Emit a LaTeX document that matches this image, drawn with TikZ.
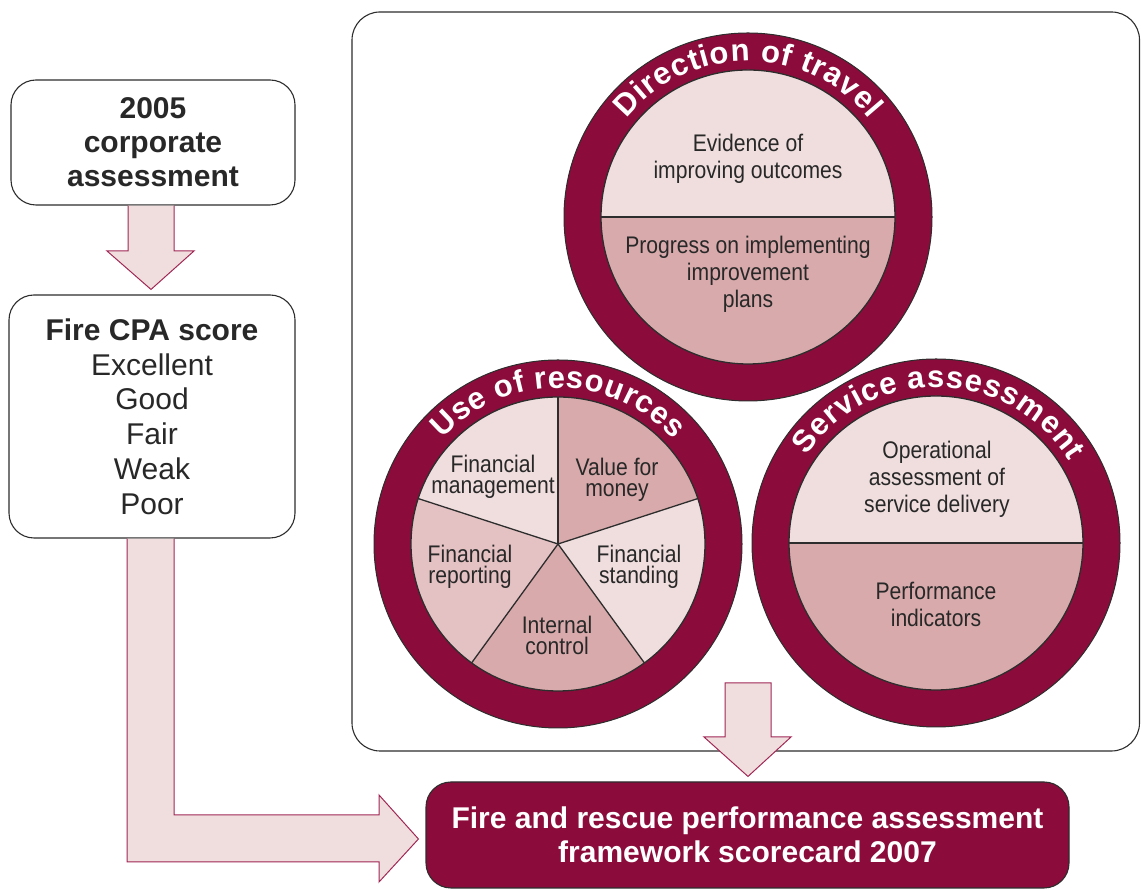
\documentclass[tikz,border=0pt]{standalone}
\usepackage{fontspec}
\setmainfont{Liberation Sans}
\newfontfamily\condf[FakeStretch=0.88]{Liberation Sans}
\usetikzlibrary{decorations.text,calc}
\definecolor{maroon}{RGB}{139,12,58}
\definecolor{pinkA}{RGB}{240,222,222}
\definecolor{pinkB}{RGB}{216,170,171}
\definecolor{pinkC}{RGB}{228,193,194}
\definecolor{txt}{RGB}{40,40,40}
\definecolor{edge}{RGB}{45,45,45}
\definecolor{arrowedge}{RGB}{160,40,85}
\newcommand\ringf{\bfseries\fontsize{31}{31}\selectfont}
\begin{document}
\begin{tikzpicture}[x=1pt,y=1pt,
  box/.style={draw=edge, line width=1.1pt, rounded corners=25pt, fill=white, inner sep=0pt, align=center, text=txt},
  blockarrow/.style={fill=pinkA, draw=arrowedge, line width=1pt, line join=miter},
  cell/.style={font=\condf\fontsize{24}{27}\selectfont, text=txt, align=center, inner sep=0pt},
  tightcell/.style={cell, font=\condf\fontsize{24}{21}\selectfont},
  ring/.style={circle, fill=maroon, draw=edge, line width=1pt, minimum size=368pt, inner sep=0pt},
  divider/.style={draw=edge, line width=1.3pt},
  ringtext/.style={decorate, decoration={text effects along path, text={#1}, text align=center,
     text effects/.cd, text along path, fit text to path, characters={text=white, font=\ringf}}}
]
\useasboundingbox (0,0) rectangle (1141,890);

% frame
\node[draw=edge, line width=1.1pt, rounded corners=28pt, minimum width=787.5pt, minimum height=739pt, inner sep=0pt] (frame) at (745.75,508.5) {};

% Direction of travel
\node[ring] (dot) at (748,673) {};
\fill[pinkA] ($(dot.center)+(147,0)$) arc[start angle=0, end angle=180, radius=147] -- cycle;
\fill[pinkB] ($(dot.center)+(-147,0)$) arc[start angle=180, end angle=360, radius=147] -- cycle;
\draw[divider] ($(dot.center)+(-147,0)$) -- ($(dot.center)+(147,0)$);
\draw[divider] (dot.center) circle[radius=147];
\path[ringtext={Direction of travel}] ($(dot.center)+(141:156)$) arc[start angle=141, end angle=39, radius=156];
\node[cell] (evid) at (748,731) {Evidence of\\improving outcomes};
\node[cell] (prog) at (748,616) {Progress on implementing\\improvement\\plans};

% Use of resources
\node[ring] (uor) at (558,346) {};
\foreach \a/\b/\c in {90/162/pinkA, 18/90/pinkB, -54/18/pinkA, -126/-54/pinkB, 162/234/pinkC}
  \fill[\c] (uor.center) -- ++(\a:147) arc[start angle=\a, end angle=\b, radius=147] -- cycle;
\foreach \a in {90,18,-54,-126,162}
  \draw[divider] (uor.center) -- ++(\a:147);
\draw[divider] (uor.center) circle[radius=147];
\path[ringtext={Use of resources}] ($(uor.center)+(137.7:156)$) arc[start angle=137.7, end angle=42, radius=156];
\node[tightcell] (fm) at (493,412.75) {Financial\\management};
\node[tightcell] (vfm) at (617,410) {Value for\\money};
\node[tightcell] (fr) at (470,323) {Financial\\reporting};
\node[tightcell] (fs) at (639,323) {Financial\\standing};
\node[tightcell] (ic) at (557,255) {Internal\\control};

% Service assessment
\node[ring] (sa) at (936,347) {};
\fill[pinkA] ($(sa.center)+(147,0)$) arc[start angle=0, end angle=180, radius=147] -- cycle;
\fill[pinkB] ($(sa.center)+(-147,0)$) arc[start angle=180, end angle=360, radius=147] -- cycle;
\draw[divider] ($(sa.center)+(-147,0)$) -- ($(sa.center)+(147,0)$);
\draw[divider] (sa.center) circle[radius=147];
\path[ringtext={Service assessment}] ($(sa.center)+(146:156)$) arc[start angle=146, end angle=31.5, radius=156];
\node[cell] (ops) at (937,411) {Operational\\assessment of\\service delivery};
\node[cell] (pi) at (936,286) {Performance\\indicators};

% left boxes
\node[box, minimum width=284pt, minimum height=125pt, font=\bfseries\fontsize{30}{34}\selectfont] (corp) at (153,747.5) {2005\\corporate\\assessment};
\node[box, minimum width=286pt, minimum height=243pt, font=\fontsize{30}{34.8}\selectfont] (cpa) at (152,473.5) {{\bfseries Fire CPA score}\\Excellent\\Good\\Fair\\Weak\\Poor};

% bottom box
\node[draw=edge, line width=1.1pt, fill=maroon, rounded corners=25pt, minimum width=643pt, minimum height=106pt, inner sep=0pt, align=center, text=white, font=\bfseries\fontsize{30}{34}\selectfont] (score) at (747.5,55) {Fire and rescue performance assessment\\framework scorecard 2007};

% block arrows
\draw[blockarrow] (corp.south -| 128,0) -- (128,639) -- (107,639) -- ([yshift=5pt]cpa.north -| 151,0) -- (194,639) -- (174,639) -- (corp.south -| 174,0);

\draw[blockarrow] (cpa.south -| 174,0) -- (174,75) -- (379,75) -- (379,95) -- ($(score.west)+(-7,-4)$) -- (379,8) -- (379,28) -- (127,28) -- (cpa.south -| 127,0);

\draw[blockarrow] (725,207) -- (771,207) -- (771,153) -- (791,153) -- ([yshift=5pt]score.north -| 748,0) -- (704,153) -- (725,153) -- cycle;
\end{tikzpicture}
\end{document}
